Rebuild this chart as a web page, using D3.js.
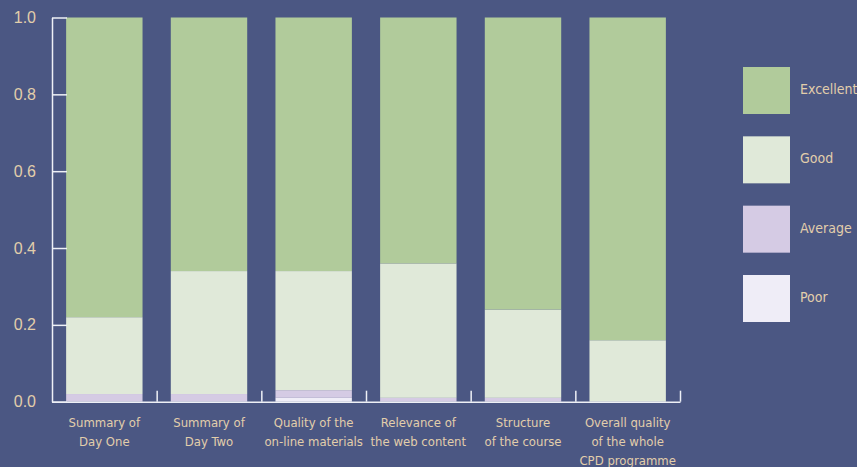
<!DOCTYPE html>
<html lang="en">
<head>
  <meta charset="UTF-8">
  <title>Course evaluation</title>
  <script src="https://cdnjs.cloudflare.com/ajax/libs/d3/7.8.5/d3.min.js"></script>
  <style>
    body {
      margin: 0;
      background: #4b5783;
    }
    svg {
      display: block;
      font-family: "DejaVu Sans", sans-serif;
      font-stretch: condensed;
    }
    .tick text, .label, .legend text {
      fill: #e2ceab;
    }
    .domain, .tick line {
      stroke: #eef0f6;
      stroke-width: 1.5;
    }
  </style>
</head>
<body>
  <svg id="chart" width="857" height="467"></svg>
  <script>
    const categories = [
      ["Summary of", "Day One"],
      ["Summary of", "Day Two"],
      ["Quality of the", "on-line materials"],
      ["Relevance of", "the web content"],
      ["Structure", "of the course"],
      ["Overall quality", "of the whole", "CPD programme"]
    ];
    const poor      = [0.00, 0.00, 0.01, 0.00, 0.00, 0.00];
    const average   = [0.02, 0.02, 0.02, 0.01, 0.01, 0.00];
    const good      = [0.20, 0.32, 0.31, 0.35, 0.23, 0.16];
    const excellent = [0.78, 0.66, 0.66, 0.64, 0.76, 0.84];
    const keys = ["Poor", "Average", "Good", "Excellent"];
    const yTicks = [0, 0.2, 0.4, 0.6, 0.8, 1.0];

    const colors = {
      Excellent: "#b1cb9b",
      Good: "#e0e9d9",
      Average: "#d5cbe4",
      Poor: "#efedf7"
    };

    const svg = d3.select("#chart");
    const mLeft = 52, mRight = 680, mTop = 17.5, mBottom = 401.7;

    const rows = categories.map((c, i) => ({
      key: i,
      Poor: poor[i],
      Average: average[i],
      Good: good[i],
      Excellent: excellent[i]
    }));

    const x = d3.scaleBand()
      .domain(d3.range(categories.length))
      .range([mLeft, mRight])
      .paddingInner(0.27)
      .paddingOuter(0.135);

    const y = d3.scaleLinear().domain([0, 1]).range([mBottom, mTop]);

    const series = d3.stack().keys(keys)(rows);

    svg.append("g")
      .selectAll("g")
      .data(series)
      .enter()
      .append("g")
      .attr("fill", d => colors[d.key])
      .selectAll("rect")
      .data(d => d)
      .enter()
      .append("rect")
      .attr("x", d => x(d.data.key))
      .attr("width", x.bandwidth())
      .attr("y", d => y(d[1]))
      .attr("height", d => y(d[0]) - y(d[1]));

    // y axis, ticks pointing inward
    svg.append("g")
      .attr("transform", `translate(${mLeft},0)`)
      .call(d3.axisLeft(y)
        .tickValues(yTicks)
        .tickFormat(d3.format(".1f"))
        .tickSize(-15)
        .tickSizeOuter(0)
        .tickPadding(16))
      .call(g => g.selectAll("text").attr("font-size", 16));

    // x axis, ticks between categories
    const xb = d3.scaleLinear().domain([0, categories.length]).range([mLeft, mRight]);
    svg.append("g")
      .attr("transform", `translate(0,${mBottom})`)
      .call(d3.axisBottom(xb)
        .tickValues(d3.range(1, categories.length + 1))
        .tickFormat("")
        .tickSize(-11)
        .tickSizeOuter(0));

    // category labels
    const lab = svg.append("g")
      .selectAll("text")
      .data(categories)
      .enter()
      .append("text")
      .attr("class", "label")
      .attr("text-anchor", "middle")
      .attr("font-size", 13)
      .attr("x", (d, i) => x(i) + x.bandwidth() / 2)
      .attr("y", 427);
    lab.selectAll("tspan")
      .data(d => d)
      .enter()
      .append("tspan")
      .attr("x", function() { return this.parentNode.getAttribute("x"); })
      .attr("dy", (d, i) => i === 0 ? 0 : 19)
      .text(d => d);

    // legend
    const legendKeys = ["Excellent", "Good", "Average", "Poor"];
    const ly = d3.scalePoint().domain(legendKeys).range([67, 275]);
    const lg = svg.append("g").attr("class", "legend")
      .selectAll("g")
      .data(legendKeys)
      .enter()
      .append("g")
      .attr("transform", d => `translate(743,${ly(d)})`);
    lg.append("rect")
      .attr("width", 47)
      .attr("height", 47)
      .attr("fill", d => colors[d]);
    lg.append("text")
      .attr("x", 57)
      .attr("y", 22)
      .attr("dy", "0.35em")
      .attr("font-size", 14)
      .text(d => d);
  </script>
</body>
</html>
